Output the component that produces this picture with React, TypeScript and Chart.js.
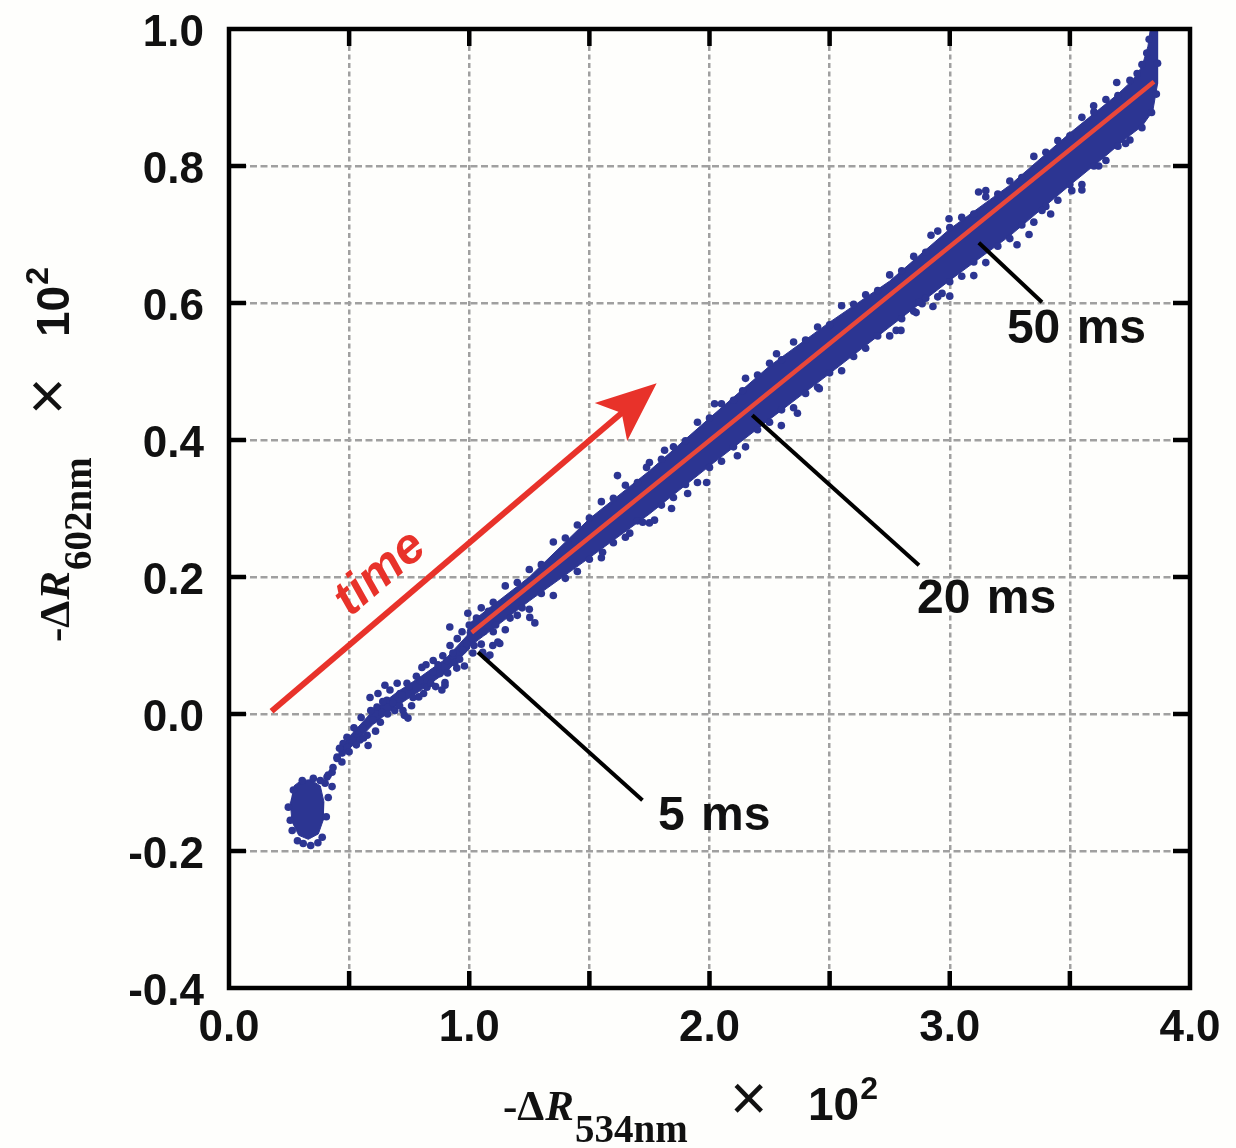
import { useEffect, useRef } from 'react';
import { Chart, registerables } from 'chart.js';

Chart.register(...registerables);

const WIDTH = 1236;
const HEIGHT = 1148;

const BLUE = '#2c3592';
const RED = '#e8322a';
const FIT_RED = '#e9473a';
const GRID = '#a0a0a0';
const INK = '#111111';

// axis ticks
const xTickValues = [0, 0.5, 1, 1.5, 2, 2.5, 3, 3.5, 4];
const xTickLabels = ['0.0', '', '1.0', '', '2.0', '', '3.0', '', '4.0'];
const yTickValues = [-0.4, -0.2, 0, 0.2, 0.4, 0.6, 0.8, 1.0];
const yTickLabels = ['-0.4', '-0.2', '0.0', '0.2', '0.4', '0.6', '0.8', '1.0'];

// dense cores of the point cloud (outline of each filled region)
const clusterOutline: [number, number][] = [
  [0.27, -0.105], [0.3, -0.097], [0.34, -0.096], [0.38, -0.105], [0.395, -0.128], [0.392, -0.155],
  [0.372, -0.175], [0.33, -0.183], [0.29, -0.177], [0.262, -0.157], [0.255, -0.128],
];
const trailOutline: [number, number][] = [
  [0.47, -0.045], [0.6, 0.005], [0.7, 0.032], [0.8, 0.055], [0.9, 0.08], [1.0, 0.118],
  [1.0, 0.095], [0.9, 0.06], [0.8, 0.035], [0.7, 0.012], [0.6, -0.015], [0.47, -0.062],
];
const bandOutline: [number, number][] = [
  [0.99, 0.118], [1.0, 0.132], [1.25, 0.2], [1.5, 0.285], [1.75, 0.355], [2.0, 0.432], [2.25, 0.508],
  [2.5, 0.572], [2.75, 0.632], [3.0, 0.708], [3.25, 0.772], [3.5, 0.848], [3.7, 0.905], [3.76, 0.925],
  [3.8, 0.945], [3.825, 0.975], [3.835, 1.0], [3.865, 1.0], [3.865, 0.92], [3.845, 0.88], [3.8, 0.858],
  [3.74, 0.842], [3.65, 0.815], [3.5, 0.772], [3.25, 0.698], [3.0, 0.633], [2.75, 0.565], [2.5, 0.497],
  [2.25, 0.43], [2.0, 0.362], [1.75, 0.292], [1.5, 0.228], [1.25, 0.165], [1.0, 0.098], [0.99, 0.098],
];

// individual samples
const clusterDots: [number, number][] = [
  [0.263, -0.17], [0.309, -0.189], [0.388, -0.18], [0.413, -0.122], [0.4, -0.101], [0.305, -0.097],
  [0.268, -0.111], [0.247, -0.136], [0.255, -0.155], [0.351, -0.094], [0.38, -0.097], [0.408, -0.092],
  [0.429, -0.085], [0.45, -0.063], [0.34, -0.192], [0.405, -0.15], [0.285, -0.185], [0.37, -0.188],
];
const trailDots: [number, number][] = [
  [0.413, -0.089], [0.429, -0.106], [0.433, -0.078], [0.45, -0.065], [0.471, -0.057], [0.475, -0.043],
  [0.491, -0.049], [0.512, -0.038], [0.491, -0.034], [0.533, -0.024], [0.558, -0.021], [0.575, -0.031],
  [0.579, -0.046], [0.545, -0.038], [0.6, -0.009], [0.587, 0.024], [0.616, 0.01], [0.637, 0.002],
  [0.649, 0.042], [0.657, 0.02], [0.682, 0.016], [0.712, 0.03], [0.724, 0.005], [0.745, -0.006],
  [0.741, 0.045], [0.766, 0.024], [0.795, 0.049], [0.803, 0.068], [0.824, 0.039], [0.849, 0.061],
  [0.878, 0.059], [0.899, 0.046], [0.907, 0.078], [0.932, 0.089], [0.948, 0.067], [0.973, 0.093],
  [0.99, 0.103], [1.015, 0.089], [1.056, 0.09], [1.073, 0.083], [1.098, 0.1], [1.127, 0.103],
  [0.46, -0.05], [0.47, -0.07], [0.5, -0.055], [0.52, -0.02], [0.53, -0.045], [0.55, -0.005],
  [0.56, -0.035], [0.59, 0.005], [0.61, -0.025], [0.62, 0.03], [0.63, -0.012], [0.64, 0.018],
  [0.66, 0.0], [0.67, 0.035], [0.69, 0.005], [0.7, 0.045], [0.71, 0.012], [0.72, 0.028],
  [0.73, -0.002], [0.75, 0.04], [0.76, 0.012], [0.78, 0.055], [0.79, 0.025], [0.81, 0.03],
  [0.82, 0.072], [0.84, 0.045], [0.85, 0.078], [0.86, 0.04], [0.87, 0.072], [0.89, 0.085],
  [0.91, 0.06], [0.92, 0.1], [0.94, 0.075], [0.95, 0.11], [0.96, 0.08], [0.97, 0.12],
  [0.98, 0.07], [1.0, 0.13], [1.02, 0.1], [1.03, 0.14], [1.06, 0.12], [1.08, 0.15],
  [1.11, 0.13], [1.13, 0.16], [1.17, 0.14], [1.19, 0.175], [1.22, 0.155], [1.24, 0.19],
];
const upperEdgeDots: [number, number][] = [
  [1.05, 0.155], [1.1, 0.163], [1.15, 0.187], [1.2, 0.192], [1.25, 0.211], [1.3, 0.218], [1.35, 0.251],
  [1.4, 0.257], [1.45, 0.276], [1.5, 0.286], [1.55, 0.31], [1.6, 0.315], [1.65, 0.334], [1.7, 0.338],
  [1.75, 0.367], [1.8, 0.372], [1.85, 0.39], [1.9, 0.399], [1.95, 0.426], [2.0, 0.432], [2.05, 0.453],
  [2.1, 0.458], [2.15, 0.49], [2.2, 0.495], [2.25, 0.512], [2.3, 0.517], [2.35, 0.543], [2.4, 0.546],
  [2.45, 0.565], [2.5, 0.568], [2.55, 0.596], [2.6, 0.598], [2.65, 0.612], [2.7, 0.618], [2.75, 0.641],
  [2.8, 0.647], [2.85, 0.668], [2.9, 0.674], [2.95, 0.705], [3.0, 0.71], [3.05, 0.725], [3.1, 0.73],
  [3.15, 0.755], [3.2, 0.759], [3.25, 0.778], [3.3, 0.783], [3.35, 0.814], [3.4, 0.82], [3.45, 0.837],
  [3.5, 0.844], [3.55, 0.871], [3.6, 0.879], [3.65, 0.897], [3.7, 0.903], [3.75, 0.925], [3.78, 0.935],
  [3.8, 0.948], [3.82, 0.965], [3.83, 0.985],
];
const lowerEdgeDots: [number, number][] = [
  [1.05, 0.102], [1.1, 0.12], [1.15, 0.123], [1.2, 0.144], [1.25, 0.153], [1.3, 0.176], [1.35, 0.173],
  [1.4, 0.198], [1.45, 0.208], [1.5, 0.226], [1.55, 0.228], [1.6, 0.25], [1.65, 0.258], [1.7, 0.282],
  [1.75, 0.279], [1.8, 0.305], [1.85, 0.316], [1.9, 0.335], [1.95, 0.338], [2.0, 0.36], [2.05, 0.369],
  [2.1, 0.39], [2.15, 0.39], [2.2, 0.415], [2.25, 0.426], [2.3, 0.444], [2.35, 0.447], [2.4, 0.468],
  [2.45, 0.477], [2.5, 0.498], [2.55, 0.501], [2.6, 0.522], [2.65, 0.534], [2.7, 0.552], [2.75, 0.552],
  [2.8, 0.577], [2.85, 0.588], [2.9, 0.607], [2.95, 0.609], [3.0, 0.631], [3.05, 0.639], [3.1, 0.66],
  [3.15, 0.659], [3.2, 0.683], [3.25, 0.694], [3.3, 0.714], [3.35, 0.718], [3.4, 0.741], [3.45, 0.75],
  [3.5, 0.773], [3.55, 0.773], [3.6, 0.8], [3.65, 0.808], [3.7, 0.829], [3.75, 0.838], [3.8, 0.856],
  [3.84, 0.878], [3.86, 0.905], [3.865, 0.95],
];
const outlierDots: [number, number][] = [
  [0.899, 0.042], [0.886, 0.035], [0.919, 0.127], [0.994, 0.147], [1.086, 0.086], [1.119, 0.105],
  [1.252, 0.141], [1.273, 0.133], [1.439, 0.251], [1.555, 0.236], [1.617, 0.348], [1.668, 0.264],
  [1.722, 0.28], [1.738, 0.36], [1.771, 0.283], [1.813, 0.385], [1.842, 0.3], [1.909, 0.322],
  [1.988, 0.338], [2.021, 0.453], [2.116, 0.377], [2.138, 0.472], [2.279, 0.526], [2.299, 0.421],
  [2.366, 0.439], [2.457, 0.475], [2.777, 0.56], [2.86, 0.586], [2.885, 0.599], [2.797, 0.56],
  [2.872, 0.601], [2.922, 0.699], [2.968, 0.614], [2.997, 0.723], [3.12, 0.762], [3.15, 0.764],
  [3.238, 0.761], [3.384, 0.735], [3.508, 0.764], [3.599, 0.888], [3.695, 0.922], [3.732, 0.833],
  [3.0, 0.61], [3.1, 0.64], [3.28, 0.685], [3.33, 0.7], [3.42, 0.73], [3.55, 0.765], [3.62, 0.8],
  [2.93, 0.595],
];

// linear fit through the later part of the trajectory
const fitLine: [number, number][] = [[1.01, 0.119], [3.85, 0.923]];

// "time" arrow and its label
const timeArrow: [number, number][] = [[0.177, 0.004], [1.78, 0.483]];
const timeLabel = 'time';
const timeLabelAt: [number, number] = [0.63, 0.205];

// time-stamp callouts
const calloutLabels = ['5 ms', '20 ms', '50 ms'];
const calloutFrom: [number, number][] = [[1.036, 0.09], [2.178, 0.436], [3.121, 0.688]];
const calloutTo: [number, number][] = [[1.721, -0.126], [2.872, 0.217], [3.384, 0.601]];
const calloutTextAt: [number, number][] = [[1.786, -0.17], [2.864, 0.148], [3.238, 0.541]];

const toXY = (pts: [number, number][]) => pts.map(([x, y]) => ({ x, y }));

const SANS = '"Liberation Sans", Arial, sans-serif';
const SERIF = '"Liberation Serif", "Times New Roman", serif';

type Part = { text: string; font: string; at?: number; dy?: number };

function drawTitle(ctx: CanvasRenderingContext2D, ox: number, oy: number, angle: number, sub: string) {
  const parts: Part[] = [
    { text: '-\u0394', font: `bold 43px ${SERIF}` },
    { text: 'R', font: `italic bold 43px ${SERIF}` },
    { text: sub, font: `bold 39px ${SERIF}`, dy: 22 },
    { text: '\u00D7', font: `64px ${SANS}`, at: 227 },
    { text: '10', font: `bold 46px ${SANS}`, at: 305 },
    { text: '2', font: `bold 32px ${SANS}`, dy: -21 },
  ];
  ctx.save();
  ctx.translate(ox, oy);
  ctx.rotate(angle);
  ctx.fillStyle = INK;
  ctx.textBaseline = 'alphabetic';
  ctx.textAlign = 'left';
  let cursor = 0;
  for (const p of parts) {
    ctx.font = p.font;
    if (p.at !== undefined) cursor = p.at;
    ctx.fillText(p.text, cursor, p.dy ?? 0);
    cursor += ctx.measureText(p.text).width + 1;
  }
  ctx.restore();
}

const overlayPlugin = {
  id: 'overlay',
  afterDatasetsDraw(chart: any) {
    const { ctx, scales } = chart;
    const px = (v: number) => scales.x.getPixelForValue(v);
    const py = (v: number) => scales.y.getPixelForValue(v);

    // callout leaders and labels
    ctx.save();
    ctx.strokeStyle = '#000';
    ctx.lineWidth = 4;
    ctx.lineCap = 'butt';
    calloutLabels.forEach((label, i) => {
      ctx.beginPath();
      ctx.moveTo(px(calloutFrom[i][0]), py(calloutFrom[i][1]));
      ctx.lineTo(px(calloutTo[i][0]), py(calloutTo[i][1]));
      ctx.stroke();
      ctx.font = `bold 48px ${SANS}`;
      (ctx as any).wordSpacing = '3px';
      ctx.fillStyle = INK;
      ctx.textAlign = 'left';
      ctx.textBaseline = 'alphabetic';
      ctx.fillText(label, px(calloutTextAt[i][0]), py(calloutTextAt[i][1]));
    });
    ctx.restore();

    // time arrow
    const x0 = px(timeArrow[0][0]);
    const y0 = py(timeArrow[0][1]);
    const x1 = px(timeArrow[1][0]);
    const y1 = py(timeArrow[1][1]);
    const ang = Math.atan2(y1 - y0, x1 - x0);
    const ux = Math.cos(ang);
    const uy = Math.sin(ang);
    const nx = -uy;
    const ny = ux;
    const headLen = 60;
    const headHalf = 25;
    const notch = 46;
    ctx.save();
    ctx.strokeStyle = RED;
    ctx.fillStyle = RED;
    ctx.lineWidth = 6;
    ctx.beginPath();
    ctx.moveTo(x0, y0);
    ctx.lineTo(x1 - ux * (notch - 2), y1 - uy * (notch - 2));
    ctx.stroke();
    ctx.beginPath();
    ctx.moveTo(x1, y1);
    ctx.lineTo(x1 - ux * headLen + nx * headHalf, y1 - uy * headLen + ny * headHalf);
    ctx.lineTo(x1 - ux * notch, y1 - uy * notch);
    ctx.lineTo(x1 - ux * headLen - nx * headHalf, y1 - uy * headLen - ny * headHalf);
    ctx.closePath();
    ctx.fill();

    ctx.translate(px(timeLabelAt[0]), py(timeLabelAt[1]));
    ctx.rotate(ang);
    ctx.font = `italic bold 50px ${SANS}`;
    ctx.textAlign = 'center';
    ctx.textBaseline = 'middle';
    ctx.fillText(timeLabel, 0, 0);
    ctx.restore();
  },
  afterDraw(chart: any) {
    const { ctx, chartArea, scales } = chart;
    const { left, right, top, bottom } = chartArea;
    ctx.save();
    ctx.strokeStyle = '#000';
    ctx.lineWidth = 4.5;
    // inward tick marks on all four sides
    const len = 17;
    ctx.beginPath();
    xTickValues.slice(1, -1).forEach((v) => {
      const x = scales.x.getPixelForValue(v);
      ctx.moveTo(x, bottom);
      ctx.lineTo(x, bottom - len);
      ctx.moveTo(x, top);
      ctx.lineTo(x, top + len);
    });
    yTickValues.slice(1, -1).forEach((v) => {
      const y = scales.y.getPixelForValue(v);
      ctx.moveTo(left, y);
      ctx.lineTo(left + len, y);
      ctx.moveTo(right, y);
      ctx.lineTo(right - len, y);
    });
    ctx.stroke();
    ctx.strokeRect(left, top, right - left, bottom - top);
    ctx.restore();

    drawTitle(ctx, 503, 1120, 0, '534nm');
    drawTitle(ctx, 69, 642, -Math.PI / 2, '602nm');
  },
};

const tickFont = { family: SANS, size: 44, weight: 'bold' as const };

export default function App() {
  const canvasRef = useRef<HTMLCanvasElement | null>(null);

  useEffect(() => {
    const canvas = canvasRef.current;
    if (!canvas) return;
    const dots = (pts: [number, number][]) => ({
      type: 'scatter' as const,
      data: toXY(pts),
      backgroundColor: BLUE,
      borderWidth: 0,
      pointRadius: 3.8,
      pointHoverRadius: 3.8,
    });
    const region = (pts: [number, number][]) => ({
      type: 'line' as const,
      data: toXY(pts),
      fill: 'shape',
      backgroundColor: BLUE,
      borderColor: BLUE,
      borderWidth: 1,
      pointRadius: 0,
      tension: 0,
    });
    const chart = new Chart(canvas, {
      type: 'scatter',
      data: {
        datasets: [
          {
            type: 'line',
            data: toXY(fitLine),
            borderColor: FIT_RED,
            borderWidth: 4.5,
            pointRadius: 0,
            fill: false,
          },
          dots(outlierDots),
          dots(upperEdgeDots),
          dots(lowerEdgeDots),
          dots(trailDots),
          dots(clusterDots),
          region(bandOutline),
          region(trailOutline),
          region(clusterOutline),
        ] as any,
      },
      options: {
        responsive: false,
        animation: false,
        events: [],
        layout: { padding: { top: 29, right: 46, left: 0, bottom: 0 } },
        plugins: { legend: { display: false }, tooltip: { enabled: false } },
        scales: {
          x: {
            type: 'linear',
            min: 0,
            max: 4,
            afterBuildTicks: (s: any) => {
              s.ticks = xTickValues.map((value) => ({ value }));
            },
            afterFit: (s: any) => {
              s.height = 160;
              s.paddingLeft = 0;
              s.paddingRight = 0;
            },
            grid: { color: GRID, lineWidth: 2.5, drawTicks: false },
            border: { display: false, dash: [5, 3.5] },
            ticks: {
              callback: (_v: any, i: number) => xTickLabels[i],
              font: tickFont,
              color: INK,
              padding: 14,
              maxRotation: 0,
              autoSkip: false,
            },
          },
          y: {
            type: 'linear',
            min: -0.4,
            max: 1.0,
            afterBuildTicks: (s: any) => {
              s.ticks = yTickValues.map((value) => ({ value }));
            },
            afterFit: (s: any) => {
              s.width = 229;
              s.paddingTop = 0;
              s.paddingBottom = 0;
            },
            grid: { color: GRID, lineWidth: 2.5, drawTicks: false },
            border: { display: false, dash: [7, 3.5] },
            ticks: {
              callback: (_v: any, i: number) => yTickLabels[i],
              font: tickFont,
              color: INK,
              padding: 25,
              labelOffset: 5,
              autoSkip: false,
            },
          },
        },
      } as any,
      plugins: [overlayPlugin],
    });
    return () => chart.destroy();
  }, []);

  return (
    <div
      style={{ position: 'absolute', left: 0, top: 0, width: WIDTH, height: HEIGHT, background: '#fefefc' }}
    >
      <canvas ref={canvasRef} width={WIDTH} height={HEIGHT} style={{ display: 'block' }} />
    </div>
  );
}
